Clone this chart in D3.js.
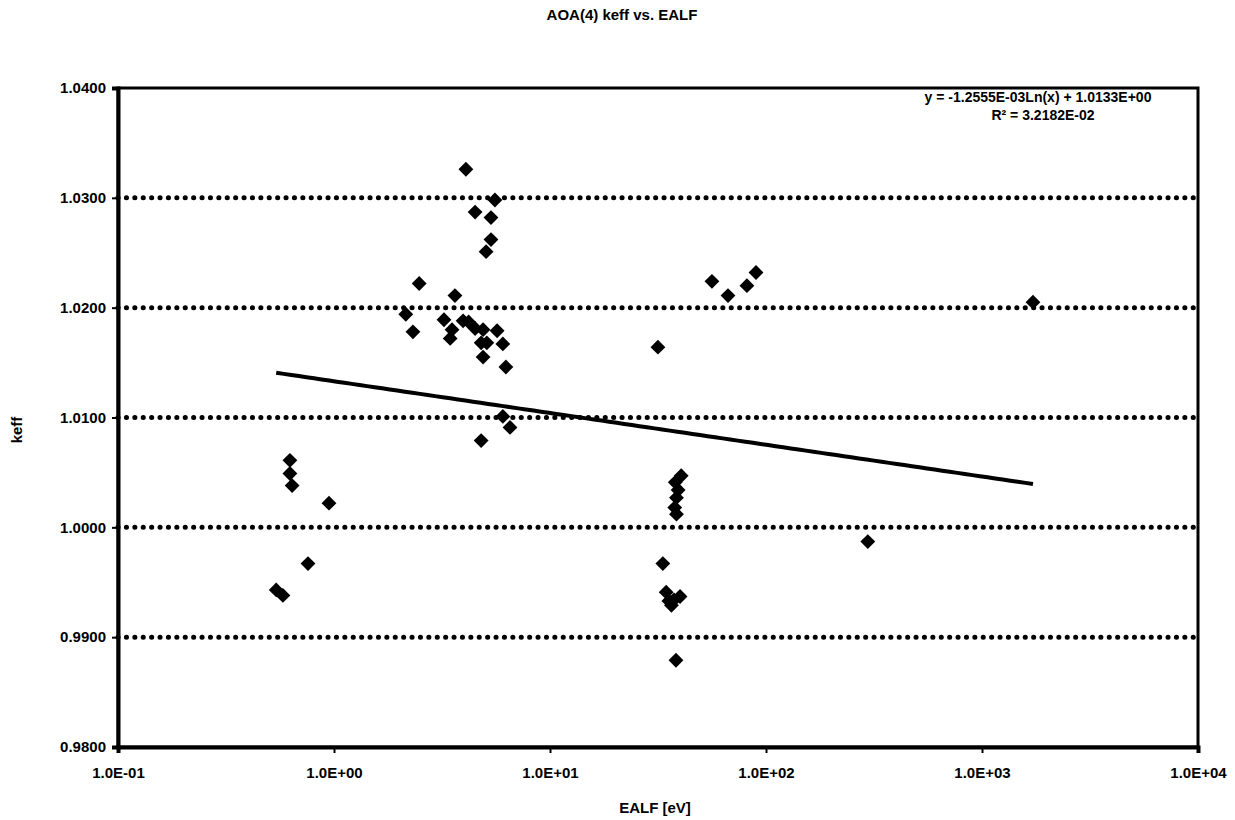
<!DOCTYPE html>
<html>
<head>
<meta charset="utf-8">
<script src="https://cdn.jsdelivr.net/npm/d3@7"></script>
<style>
  body { margin: 0; background: #fff; }
  svg { display: block; font-family: "Liberation Sans", Arial, sans-serif; font-weight: bold; }
</style>
</head>
<body>
<svg id="chart" width="1235" height="820"></svg>
<script>
// ---- data ----
const title = "AOA(4) keff vs. EALF";
const xLabel = "EALF [eV]";
const yLabel = "keff";
const xTickValues = [0.1, 1, 10, 100, 1000, 10000];
const xTickLabels = ["1.0E-01", "1.0E+00", "1.0E+01", "1.0E+02", "1.0E+03", "1.0E+04"];
const yTickValues = [0.98, 0.99, 1.00, 1.01, 1.02, 1.03, 1.04];
const yTickLabels = ["0.9800", "0.9900", "1.0000", "1.0100", "1.0200", "1.0300", "1.0400"];
const ealf = [
  4.08, 5.56, 4.50, 5.33, 5.33, 5.06,
  2.48, 3.63, 2.15, 2.32, 3.23, 3.96, 4.2, 3.52, 3.45, 4.5, 4.9, 5.69, 5.1, 4.8, 6.05, 4.9, 6.25, 6.05, 6.53, 4.80,
  0.625, 0.625, 0.64, 0.948, 0.758, 0.54, 0.58,
  31.6, 40.5, 38.0, 39.2, 38.5, 37.8, 38.5, 33.3, 34.5, 35.5, 37.5, 40.0, 36.5, 38.3,
  56.2, 66.7, 81.6, 89.9,
  1722, 296
];
const keff = [
  1.0326, 1.0298, 1.0287, 1.0282, 1.0262, 1.0251,
  1.0222, 1.0211, 1.0194, 1.0178, 1.0189, 1.0188, 1.0187, 1.0180, 1.0172, 1.0181, 1.0180, 1.0179, 1.0168, 1.0168, 1.0167, 1.0155, 1.0146, 1.0101, 1.0091, 1.0079,
  1.0061, 1.0049, 1.0038, 1.0022, 0.9967, 0.9943, 0.9938,
  1.0164, 1.0047, 1.0041, 1.0034, 1.0027, 1.0018, 1.0012, 0.9967, 0.9941, 0.9933, 0.9934, 0.9937, 0.9929, 0.9879,
  1.0224, 1.0211, 1.0220, 1.0232,
  1.0205, 0.9987
];
const fitSlope = -1.2555e-3;
const fitIntercept = 1.0133;
const equationLines = ["y = -1.2555E-03Ln(x) + 1.0133E+00", "R\u00B2 = 3.2182E-02"];

// ---- layout ----
const svg = d3.select("#chart");
const m = { left: 118, right: 1198, top: 88, bottom: 747 };
const x = d3.scaleLog().domain([0.1, 10000]).range([m.left, m.right]);
const y = d3.scaleLinear().domain([0.98, 1.04]).range([m.bottom, m.top]);

// gridlines (dotted)
svg.append("g").selectAll("line")
  .data(yTickValues.filter(v => v > 0.9801 && v < 1.0399))
  .join("line")
  .attr("x1", m.left).attr("x2", m.right)
  .attr("y1", d => y(d)).attr("y2", d => y(d))
  .attr("stroke", "#000").attr("stroke-width", 5)
  .attr("stroke-linecap", "round")
  .attr("stroke-dasharray", "0.1 8.3");

// plot frame
svg.append("rect")
  .attr("x", m.left).attr("y", m.top)
  .attr("width", m.right - m.left).attr("height", m.bottom - m.top)
  .attr("fill", "none").attr("stroke", "#000").attr("stroke-width", 3);

// axes
const xAxis = d3.axisBottom(x).tickValues(xTickValues)
  .tickFormat((d, i) => xTickLabels[i]).tickSize(6).tickPadding(14);
const gx = svg.append("g").attr("transform", `translate(0,${m.bottom})`).call(xAxis);
gx.select(".domain").attr("stroke-width", 4);
gx.selectAll(".tick line").attr("stroke-width", 2);
gx.selectAll("text").attr("font-size", 15).attr("font-weight", "bold").attr("fill", "#000")
  .attr("font-family", "Liberation Sans, Arial, sans-serif");

const yAxis = d3.axisLeft(y).tickValues(yTickValues)
  .tickFormat((d, i) => yTickLabels[i]).tickSize(6).tickPadding(6);
const gy = svg.append("g").attr("transform", `translate(${m.left},0)`).call(yAxis);
gy.select(".domain").attr("stroke-width", 4);
gy.selectAll(".tick line").attr("stroke-width", 2);
gy.selectAll("text").attr("font-size", 15).attr("font-weight", "bold").attr("fill", "#000")
  .attr("font-family", "Liberation Sans, Arial, sans-serif");

// trend line
const xmin = d3.min(ealf), xmax = d3.max(ealf);
const fitX = d3.range(0, 101).map(i => xmin * Math.pow(xmax / xmin, i / 100));
svg.append("path")
  .datum(fitX)
  .attr("d", d3.line().x(d => x(d)).y(d => y(fitSlope * Math.log(d) + fitIntercept)))
  .attr("fill", "none").attr("stroke", "#000").attr("stroke-width", 4);

// points (diamonds)
const pts = ealf.map((e, i) => [e, keff[i]]);
svg.append("g").selectAll("path")
  .data(pts)
  .join("path")
  .attr("d", d3.symbol().type(d3.symbolSquare).size(110))
  .attr("transform", d => `translate(${x(d[0])},${y(d[1])}) rotate(45)`)
  .attr("fill", "#000");

// title & labels
svg.append("text").attr("x", 622).attr("y", 20).attr("text-anchor", "middle")
  .attr("font-size", 15).text(title);
svg.append("text").attr("x", 655).attr("y", 813).attr("text-anchor", "middle")
  .attr("font-size", 15).text(xLabel);
svg.append("text").attr("transform", "translate(22,430) rotate(-90)").attr("text-anchor", "middle")
  .attr("font-size", 15).text(yLabel);

// equation
const eq = svg.append("text").attr("text-anchor", "middle").attr("font-size", 14);
eq.append("tspan").attr("x", 1038).attr("y", 102).text(equationLines[0]);
eq.append("tspan").attr("x", 1043).attr("y", 120).text(equationLines[1]);
</script>
</body>
</html>
